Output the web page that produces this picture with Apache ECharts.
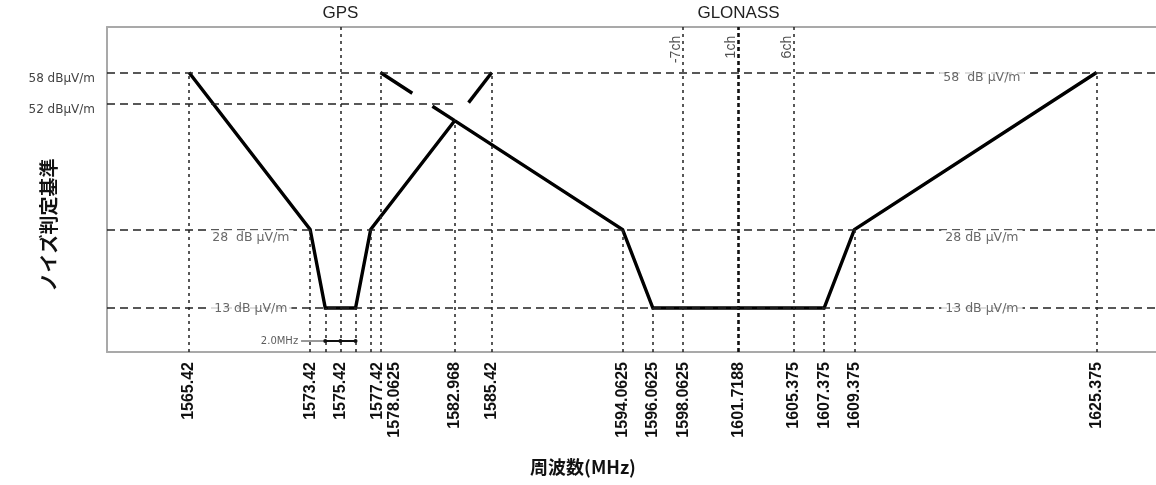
<!DOCTYPE html>
<html>
<head>
<meta charset="utf-8">
<script src="https://cdn.jsdelivr.net/npm/echarts@6/dist/echarts.min.js"></script>
<style>
  html, body { margin: 0; padding: 0; background: #fff; }
  #chart { width: 1156px; height: 485px; }
</style>
</head>
<body>
<div id="chart"></div>
<script>
// Frequency ticks on the bottom axis (MHz) and their printed text
const freqTicks = [1565.42, 1573.42, 1575.42, 1577.42, 1578.0625, 1582.968, 1585.42,
  1594.0625, 1596.0625, 1598.0625, 1601.7188, 1605.375, 1607.375, 1609.375, 1625.375];
const freqTickLabels = ['1565.42', '1573.42', '1575.42', '1577.42', '1578.0625', '1582.968', '1585.42',
  '1594.0625', '1596.0625', '1598.0625', '1601.7188', '1605.375', '1607.375', '1609.375', '1625.375'];

// Limit levels (dBμV/m)
const levelsFull = [58, 28, 13];
const levelCross = 52;
const axisLevelTicks = [58, 52];

// GPS noise mask: solid part, and the dashed part above the GLONASS mask
const gpsSolid = [[1565.42, 58], [1573.42, 28], [1574.42, 13], [1576.42, 13], [1577.42, 28], [1582.968, 48.8]];
const gpsDashed = [[1585.42, 58], [1582.968, 48.8]];
// GLONASS noise mask: dashed part above the GPS mask, then solid part
const glonassDashed = [[1578.0625, 58], [1582.968, 48.8]];
const glonassSolid = [[1582.968, 48.8], [1594.0625, 28], [1596.0625, 13], [1607.375, 13], [1609.375, 28], [1625.375, 58]];

// Vertical guides: [frequency, level where the guide ends] (null = runs to the top)
const guides = [[1565.42, 58], [1573.42, 28], [1574.42, 13], [1575.42, null], [1576.42, 13], [1577.42, 28],
  [1578.0625, 58], [1582.968, 48.8], [1585.42, 58], [1594.0625, 28], [1596.0625, 13], [1598.0625, null],
  [1601.7188, null], [1605.375, null], [1607.375, 13], [1609.375, 28], [1625.375, 58]];
const boldGuide = 1601.7188;

// Band names on the top axis
const bandFreqs = [1575.42, 1601.7188];
const bandNames = ['GPS', 'GLONASS'];

// GLONASS channel markers
const channelFreqs = [1598.0625, 1601.7188, 1605.375];
const channelNames = ['-7ch', '1ch', '6ch'];

// 2.0 MHz span inside the GPS dip
const spanFreqs = [1574.42, 1575.42, 1576.42];
const spanText = '2.0MHz';

const X_MIN = 1560, X_MAX = 1629.3, Y_MIN = 4.6, Y_MAX = 66.7;
const sans = "'Liberation Sans', Arial, sans-serif";
const wide = "'DejaVu Sans', 'Liberation Sans', sans-serif";
const narrow = "'Liberation Sans Narrow', 'Liberation Sans', sans-serif";
const frameColor = '#a9a9a9';
const noteFont = { fontFamily: wide, fontSize: 12.5, color: '#444' };

const nearestIndex = (arr, v) => {
  let best = 0;
  arr.forEach((a, i) => { if (Math.abs(a - v) < Math.abs(arr[best] - v)) best = i; });
  return best;
};

// the two crowded bottom labels are nudged sideways (rich padding moves rotated text)
const tickFont = { fontFamily: sans, fontSize: 16, fontWeight: 'bold', color: '#111' };
const tickRich = {
  s1: Object.assign({ padding: [13, 0, 0, 0] }, tickFont),
  s2: Object.assign({ padding: [28, 0, 0, 0] }, tickFont)
};

const guideLines = guides.map(([f, top]) => {
  const style = f === boldGuide
    ? { color: '#111', width: 2.6, type: [4, 3] }
    : { color: '#222', width: 1.5, type: [3, 4] };
  return [{ coord: [f, Y_MIN], lineStyle: style }, { coord: [f, top === null ? Y_MAX : top], lineStyle: style }];
});
const hDash = { color: '#222', width: 1.5, type: [8, 5] };
const levelLines = levelsFull.map(v => ({ yAxis: v, lineStyle: hDash }));
levelLines.push([{ coord: [X_MIN, levelCross], lineStyle: hDash }, { coord: [gpsSolid[gpsSolid.length - 1][0], levelCross], lineStyle: hDash }]);

const maskLine = { color: '#000', width: 3.4, cap: 'butt', join: 'miter' };
const maskDashed = { color: '#000', width: 3.4, cap: 'butt', type: [38, 24] };

const noteLabel = (text, offset) => Object.assign({
  show: true, position: 'inside', formatter: text, offset: offset,
  backgroundColor: '#fff', padding: [1, 4]
}, noteFont);

const notes = [
  { value: [1569.5, 28], label: noteLabel('28  dB μV/m', [0, 8]) },
  { value: [1569.5, 13], label: noteLabel('13 dB μV/m', [0, 1]) },
  { value: [1617.8, 58], label: noteLabel('58  dB μV/m', [0, 5]) },
  { value: [1617.8, 28], label: noteLabel('28 dB μV/m', [0, 8]) },
  { value: [1617.8, 13], label: noteLabel('13 dB μV/m', [0, 1]) }
];
channelFreqs.forEach((f, i) => notes.push({
  value: [f, 65.4],
  label: {
    show: true, position: 'inside', formatter: channelNames[i], rotate: 90,
    align: 'right', verticalAlign: 'bottom', offset: [-2, 0],
    fontFamily: narrow, fontSize: 14, color: '#222'
  }
}));
notes.push({
  value: [spanFreqs[0] - 1, 6.7],
  label: { show: true, position: 'left', distance: 12, formatter: spanText, fontFamily: wide, fontSize: 10, color: '#333' }
});

const option = {
  animation: false,
  backgroundColor: '#fff',
  title: {
    text: '周波数(MHz)', left: 578, top: 453, textAlign: 'center',
    textStyle: { fontFamily: "'Noto Sans CJK JP', sans-serif", fontSize: 18, fontWeight: 'bold', color: '#111' }
  },
  grid: { left: 107, right: 0, top: 27, bottom: 133, outerBoundsMode: 'none', containLabel: false },
  xAxis: [
    {
      type: 'value', min: X_MIN, max: X_MAX, position: 'bottom',
      axisLine: { show: true, onZero: false, lineStyle: { color: frameColor, width: 2 } },
      axisTick: { show: false }, splitLine: { show: false },
      axisLabel: Object.assign({
        customValues: freqTicks, rotate: 90, margin: 10,
        formatter: v => {
          const t = freqTickLabels[nearestIndex(freqTicks, v)];
          if (t === '1577.42') return '{s1|' + t + '}';
          if (t === '1578.0625') return '{s2|' + t + '}';
          return t;
        },
        rich: tickRich
      }, tickFont)
    },
    {
      type: 'value', min: X_MIN, max: X_MAX, position: 'top',
      axisLine: { show: true, onZero: false, lineStyle: { color: frameColor, width: 2 } },
      axisTick: { show: false }, splitLine: { show: false },
      axisLabel: {
        customValues: bandFreqs, margin: 5,
        fontFamily: sans, fontSize: 17, color: '#222',
        formatter: v => bandNames[nearestIndex(bandFreqs, v)]
      }
    }
  ],
  yAxis: {
    type: 'value', min: Y_MIN, max: Y_MAX,
    axisLine: { show: true, onZero: false, lineStyle: { color: frameColor, width: 2 } },
    axisTick: { show: false }, splitLine: { show: false },
    axisLabel: {
      customValues: axisLevelTicks, margin: 12, verticalAlign: 'top',
      fontFamily: wide, fontSize: 12, color: '#444',
      formatter: v => v + ' dBμV/m'
    },
    name: 'ノイズ判定基準', nameLocation: 'middle', nameGap: 49, nameRotate: 90, nameMoveOverlap: false,
    nameTextStyle: {
      fontFamily: "'Noto Sans CJK JP', sans-serif", fontSize: 19, fontWeight: 'bold', color: '#111',
      padding: [0, 71, 0, 0]
    }
  },
  series: [
    {
      name: 'guides', type: 'line', data: [], silent: true, z: 1,
      markLine: { silent: true, symbol: 'none', label: { show: false }, animation: false, data: guideLines.concat(levelLines) }
    },
    { name: 'GPS', type: 'line', data: gpsSolid, showSymbol: false, symbol: 'none', lineStyle: maskLine, z: 3 },
    { name: 'GPS upper', type: 'line', data: gpsDashed, showSymbol: false, symbol: 'none', lineStyle: maskDashed, z: 3 },
    { name: 'GLONASS upper', type: 'line', data: glonassDashed, showSymbol: false, symbol: 'none', lineStyle: maskDashed, z: 3 },
    { name: 'GLONASS', type: 'line', data: glonassSolid, showSymbol: false, symbol: 'none', lineStyle: maskLine, z: 3 },
    {
      name: 'span leader', type: 'line', data: [[spanFreqs[0] - 1.6, 6.7], [spanFreqs[0], 6.7]],
      showSymbol: false, symbol: 'none', lineStyle: { color: '#333', width: 1 }, z: 3
    },
    {
      name: 'span', type: 'line', data: spanFreqs.map(f => [f, 6.7]),
      symbol: 'circle', symbolSize: 4, itemStyle: { color: '#111' },
      lineStyle: { color: '#111', width: 2.2 }, z: 3
    },
    {
      name: 'notes', type: 'scatter', data: notes, symbolSize: 0, silent: true, z: 10
    }
  ]
};

echarts.init(document.getElementById('chart'), null, { renderer: 'canvas' }).setOption(option);
</script>
</body>
</html>
